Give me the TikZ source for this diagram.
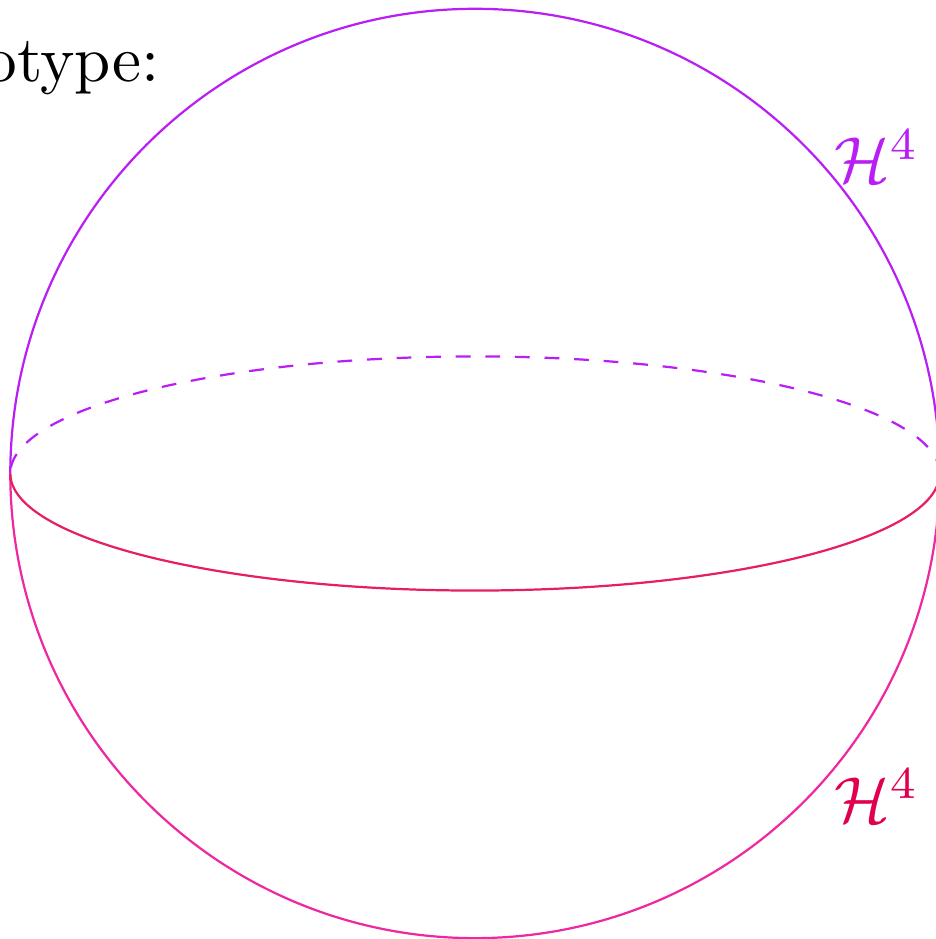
\documentclass[tikz,border=0pt]{standalone}
\usepackage{amsmath,amssymb}
\usetikzlibrary{calc}

\definecolor{topviolet}{RGB}{185,30,245}
\definecolor{lowpink}{RGB}{238,40,160}
\definecolor{eqred}{RGB}{230,30,100}
\definecolor{labred}{RGB}{225,0,80}

\begin{document}
\begin{tikzpicture}[
    hemi/.style={line width=0.3pt},
    back/.style={hemi,dash pattern=on 2pt off 2pt},
    lab/.style={scale=0.88,inner sep=0pt,anchor=base west}
  ]
  \useasboundingbox (-2.256,-2.211) rectangle (2.185,2.249);
  \def\R{2.207}
  \def\ry{0.556}
  % sphere outline
  \draw[hemi,topviolet] (\R,0) arc[start angle=0,end angle=180,radius=\R];
  \draw[hemi,lowpink] (-\R,0) arc[start angle=180,end angle=360,radius=\R];
  % equator
  \draw[back,topviolet] (\R,0) arc[start angle=0,end angle=180,x radius=\R,y radius=\ry];
  \draw[hemi,eqred] (-\R,0) arc[start angle=180,end angle=360,x radius=\R,y radius=\ry];
  % labels
  \node[lab,anchor=base east] (title) at (-1.49,1.862) {Prototype:};
  \node[lab,text=topviolet] (upper) at (1.70,1.38) {$\mathcal{H}^4$};
  \node[lab,text=labred] (lower) at (1.70,-1.656) {$\mathcal{H}^4$};
\end{tikzpicture}
\end{document}
